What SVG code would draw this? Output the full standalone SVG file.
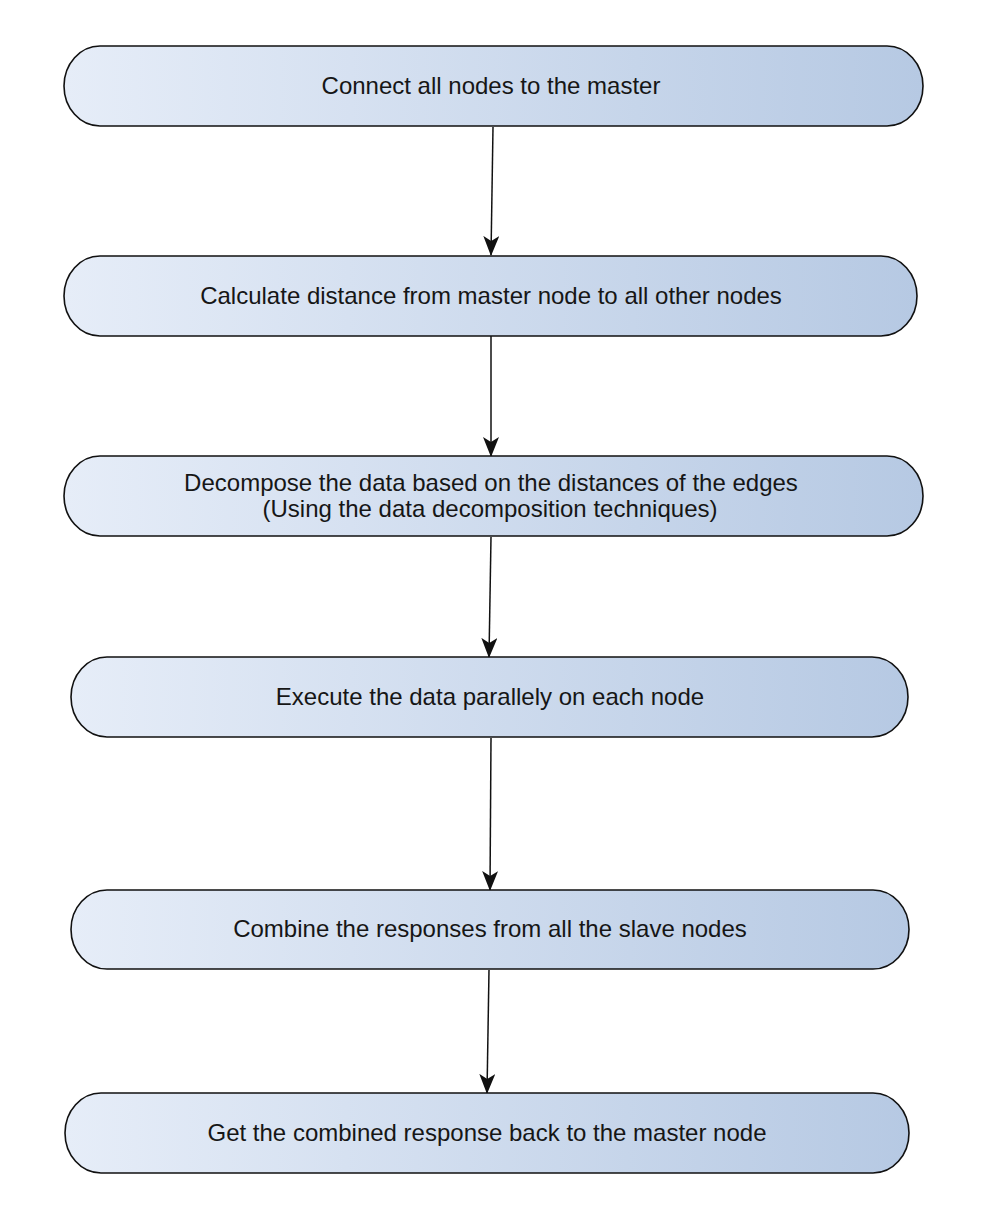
<svg xmlns="http://www.w3.org/2000/svg" width="982" height="1227" viewBox="0 0 982 1227">
  <style>
    .node { fill: url(#grad); stroke: #111; stroke-width: 1.6; }
    .label { font-family: "Liberation Sans", Arial, sans-serif; font-size: 24px; fill: #161616; text-anchor: middle; }
    .edge { fill: none; stroke: #111; stroke-width: 1.5; marker-end: url(#arrow); }
  </style>
  <defs>
    <linearGradient id="grad" x1="0" y1="0" x2="1" y2="0">
      <stop offset="0" stop-color="#e6edf8"/>
      <stop offset="1" stop-color="#b6c9e3"/>
    </linearGradient>
    <marker id="arrow" viewBox="0 0 20 16" refX="19" refY="8" markerWidth="20" markerHeight="16" markerUnits="userSpaceOnUse" orient="auto">
      <path d="M0,0 L20,8 L0,16 L5,8 Z" fill="#111"/>
    </marker>
  </defs>
  <rect width="982" height="1227" fill="#ffffff"/>

  <g id="connectors">
    <path class="edge" d="M493,127 L491,255"/>
    <path class="edge" d="M491,336 L491,456"/>
    <path class="edge" d="M491,537 L489,657"/>
    <path class="edge" d="M491,738 L490,890"/>
    <path class="edge" d="M489,970 L487,1093"/>
  </g>

  <g id="node1">
    <rect class="node" x="64" y="46" width="859" height="80" rx="36" ry="40"/>
    <text class="label" x="491" y="94">Connect all nodes to the master</text>
  </g>
  <g id="node2">
    <rect class="node" x="64" y="256" width="853" height="80" rx="36" ry="40"/>
    <text class="label" x="491" y="304">Calculate distance from master node to all other nodes</text>
  </g>
  <g id="node3">
    <rect class="node" x="64" y="456" width="859" height="80" rx="36" ry="40"/>
    <text class="label" x="491" y="490.5">Decompose the data based on the distances of the edges</text>
    <text class="label" x="490" y="517">(Using the data decomposition techniques)</text>
  </g>
  <g id="node4">
    <rect class="node" x="71" y="657" width="837" height="80" rx="36" ry="40"/>
    <text class="label" x="490" y="705">Execute the data parallely on each node</text>
  </g>
  <g id="node5">
    <rect class="node" x="71" y="890" width="838" height="79" rx="36" ry="40"/>
    <text class="label" x="490" y="937">Combine the responses from all the slave nodes</text>
  </g>
  <g id="node6">
    <rect class="node" x="65" y="1093" width="844" height="80" rx="36" ry="40"/>
    <text class="label" x="487" y="1141">Get the combined response back to the master node</text>
  </g>
</svg>
